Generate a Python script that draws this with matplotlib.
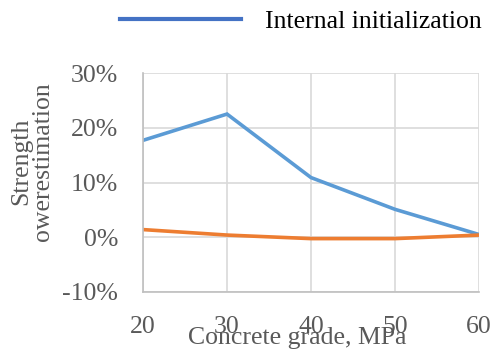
import matplotlib.pyplot as plt
from matplotlib.lines import Line2D
from matplotlib.ticker import FuncFormatter

grades = [20, 30, 40, 50, 60]
internal_init = [17.7, 22.5, 10.9, 5.1, 0.5]
other_init = [1.4, 0.4, -0.25, -0.25, 0.4]

plt.rcParams['font.family'] = 'Liberation Serif'

fig = plt.figure(figsize=(4.95, 3.5), dpi=100)
ax = fig.add_axes([143 / 495, 1 - 292 / 350, (479 - 143) / 495, (292 - 73) / 350])

ax.plot(grades, internal_init, color='#5B9BD5', lw=2.6, solid_joinstyle='miter')
ax.plot(grades, other_init, color='#ED7D31', lw=2.6, solid_joinstyle='miter')

ax.set_xlim(20, 60)
ax.set_ylim(-10, 30)
ax.set_xticks(grades)
ax.set_yticks([-10, 0, 10, 20, 30])
ax.yaxis.set_major_formatter(FuncFormatter(lambda v, p: f'{v:.0f}%'))
ax.grid(True, color='#D9D9D9', lw=1.2)
ax.set_axisbelow(True)
for side in ['top', 'right']:
    ax.spines[side].set_visible(False)
for side in ['left', 'bottom']:
    ax.spines[side].set_color('#BFBFBF')
    ax.spines[side].set_linewidth(1.2)
ax.tick_params(length=0, labelsize=18.5, colors='#595959')
ax.tick_params(axis='y', pad=18)
ax.tick_params(axis='x', pad=17)

ax.set_xlabel('Concrete grade, MPa', fontsize=18.5, color='#595959', va='center')
ax.xaxis.set_label_coords(0.458, -0.208)
ax.set_ylabel('Strength\nowerestimation', fontsize=18.5, color='#595959',
              linespacing=0.95, va='center')
ax.yaxis.set_label_coords(-0.33, 0.595)

handle = Line2D([], [], color='#4472C4', lw=3)
fig.legend([handle], ['Internal initialization'], loc='center',
           bbox_to_anchor=(301 / 495, 1 - 22 / 350), frameon=False,
           fontsize=18.5, handlelength=4.7, handletextpad=0.93)

fig.savefig('out.png', dpi=100)
